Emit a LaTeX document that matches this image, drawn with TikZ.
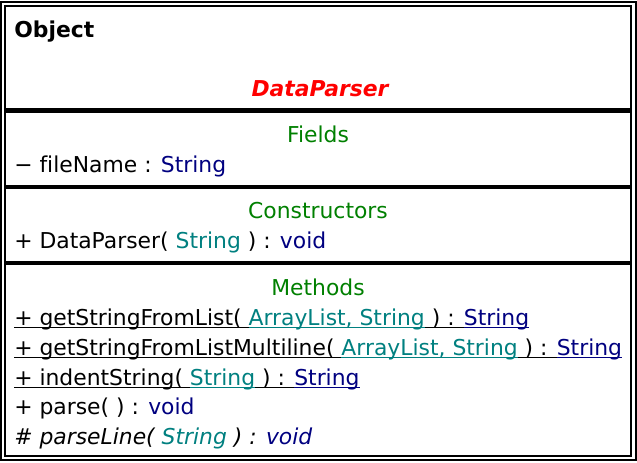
\documentclass[tikz,border=0pt]{standalone}
\usepackage{fontspec}
\setmainfont[Ligatures=NoCommon]{DejaVu Sans}
\definecolor{umlgreen}{RGB}{0,128,0}
\definecolor{umlparam}{RGB}{0,128,128}
\definecolor{umltype}{RGB}{0,0,128}
\definecolor{umlname}{RGB}{255,0,0}
% underline at a fixed depth, in the colour of the text it stands under
\newcommand\ulbox[1]{\setbox0\hbox{#1}\rlap{\rule[-2.4pt]{\wd0}{0.9pt}}\box0}
\newcommand\prm[1]{\textcolor{umlparam}{#1}}
\newcommand\typ[1]{\textcolor{umltype}{#1}}
\newcommand\umlfont{\fontsize{16.4}{20}\selectfont}
\begin{document}
\begin{tikzpicture}[x=0.75pt,y=-0.75pt,
  txt/.style={inner sep=0pt, font=\umlfont},
  member/.style={txt, anchor=base west},
  section/.style={txt, anchor=base, text=umlgreen},
  frame/.style={line width=1.6pt},
  divider/.style={line width=3.2pt}]
\useasboundingbox (0,0) rectangle (637,462);
\fill[white] (0,0) rectangle (637,462);
% double outline of the class box
\draw[frame] (1.2,2) rectangle (635.8,460.4);
\draw[frame] (5,6) rectangle (631,455.8);
% compartment dividers
\draw[divider] (5,110.5) -- (631,110.5);
\draw[divider] (5,187) -- (631,187);
\draw[divider] (5,263) -- (631,263);
% name compartment
\node[member, font=\umlfont\bfseries] (super) at (14,37) {Object};
\node[txt, anchor=base, text=umlname, font=\umlfont\bfseries\itshape] (cname) at (320,96) {DataParser};
% fields
\node[section] (fields) at (318,142) {Fields};
\node[member] (f1) at (14,172) {− fileName : \typ{String}};
% constructors
\node[section] (ctors) at (318,218) {Constructors};
\node[member] (c1) at (14,248) {+ DataParser( \prm{String} ) : \typ{void}};
% methods
\node[section] (methods) at (318,295) {Methods};
\node[member] (m1) at (14,325) {\ulbox{+ getStringFromList( }\prm{\ulbox{ArrayList, String}}\ulbox{ ) : }\typ{\ulbox{String}}};
\node[member] (m2) at (14,355) {\ulbox{+ getStringFromListMultiline( }\prm{\ulbox{ArrayList, String}}\ulbox{ ) : }\typ{\ulbox{String}}};
\node[member] (m3) at (14,385) {\ulbox{+ indentString( }\prm{\ulbox{String}}\ulbox{ ) : }\typ{\ulbox{String}}};
\node[member] (m4) at (14,414) {+ parse( ) : \typ{void}};
\node[member, font=\umlfont\itshape] (m5) at (14,444) {\# parseLine( \prm{String} ) : \typ{void}};
\end{tikzpicture}
\end{document}
